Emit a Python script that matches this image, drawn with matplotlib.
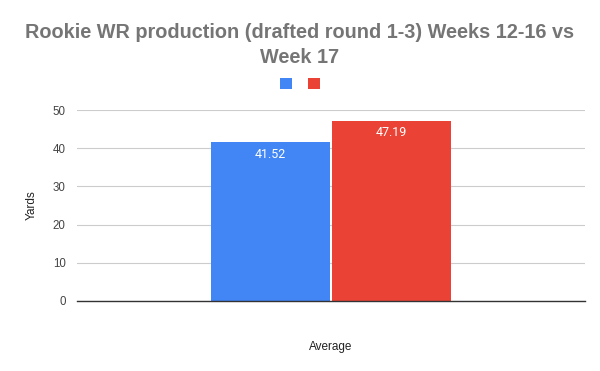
import matplotlib
matplotlib.use("Agg")
import matplotlib.pyplot as plt
from matplotlib.patches import Patch

# ── Datos ─────────────────────────────────────────────────────────────────────
categories = ["Average"]
series_names = ["Weeks 12-16", "Week 17"]
series_values = [[41.52], [47.19]]
series_colors = ["#4285F4", "#EA4335"]
y_ticks = [0, 10, 20, 30, 40, 50]

plt.rcParams["font.family"] = ["Liberation Sans", "DejaVu Sans"]

fig = plt.figure(figsize=(6, 3.71), dpi=100)
ax = fig.add_axes([0.128, 0.1887, 0.847, 0.5148])

width = 0.468
offsets = [-0.237, 0.237]
for vals, off, col in zip(series_values, offsets, series_colors):
    xs = [i + off for i in range(len(categories))]
    ax.bar(xs, vals, width=width, color=col, zorder=3)
    for x, v in zip(xs, vals):
        ax.text(x, v - 1.4, f"{v:.2f}", ha="center", va="top", color="white",
                fontsize=9, family=["Roboto", "DejaVu Sans"], zorder=4)

ax.set_xlim(-1, 1)
ax.set_ylim(0, 50)
ax.set_yticks(y_ticks)
ax.set_yticklabels([str(t) for t in y_ticks], fontsize=8.3, color="#444444")
ax.set_xticks([])
ax.tick_params(axis="y", length=0, pad=8)
ax.grid(axis="y", color="#cccccc", linewidth=0.8, zorder=0)
for s in ["top", "right", "left"]:
    ax.spines[s].set_visible(False)
ax.spines["bottom"].set_color("#333333")
ax.spines["bottom"].set_linewidth(1.0)
ax.spines["bottom"].set_zorder(5)

ax.set_ylabel("Yards", fontsize=8.5, color="#222222", labelpad=11)
ax.set_xlabel("Average", fontsize=8.5, color="#222222", labelpad=29)

fig.text(0.5, 0.878, "Rookie WR production (drafted round 1-3) Weeks 12-16 vs\nWeek 17",
         ha="center", va="center", fontsize=14.3, fontweight="bold", color="#757575",
         linespacing=1.4)

handles = [Patch(facecolor=c, label="") for c in series_colors]
fig.legend(handles=handles, labels=["", ""], loc="center", bbox_to_anchor=(0.5, 0.773),
           ncol=2, frameon=False, handlelength=0.87, handleheight=0.87,
           columnspacing=1.15, handletextpad=0.0)

fig.savefig("out.png", dpi=100)
